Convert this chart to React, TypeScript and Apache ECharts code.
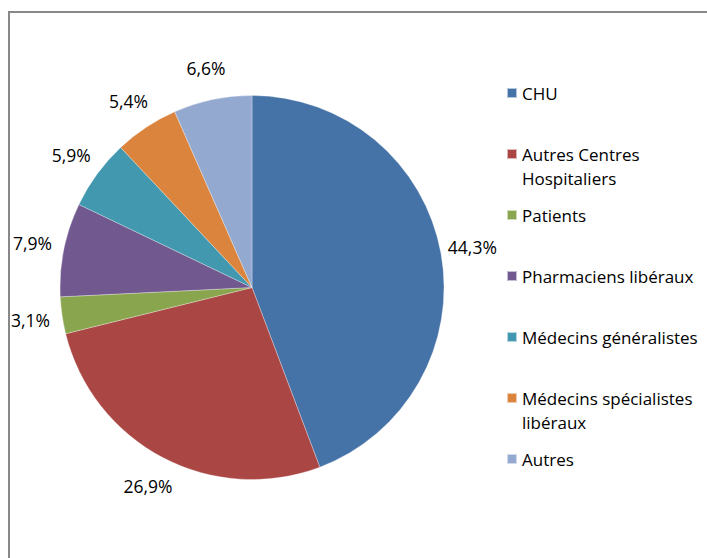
import React, { useEffect, useRef } from "react";
import * as echarts from "echarts";

const categories = [
  "CHU",
  "Autres Centres Hospitaliers",
  "Patients",
  "Pharmaciens libéraux",
  "Médecins généralistes",
  "Médecins spécialistes libéraux",
  "Autres",
];
const legendTexts = [
  "CHU",
  "Autres Centres\nHospitaliers",
  "Patients",
  "Pharmaciens libéraux",
  "Médecins généralistes",
  "Médecins spécialistes\nlibéraux",
  "Autres",
];
const values = [44.3, 26.9, 3.1, 7.9, 5.9, 5.4, 6.6];
const colors = ["#4572A7", "#AA4643", "#89A54E", "#71588F", "#4198AF", "#DB843D", "#93A9CF"];

const FONT = "'Open Sans', sans-serif";

export default function App() {
  const ref = useRef<HTMLDivElement>(null);
  useEffect(() => {
    if (!ref.current) return;
    const chart = echarts.init(ref.current, null, { renderer: "svg" });
    const data = categories.map((c, i) => ({ name: c, value: values[i] }));
    const isTwoLine = (i: number) => legendTexts[i].includes("\n");
    const option = {
      animation: false,
      color: colors,
      graphic: [
        {
          type: "rect",
          shape: { x: 9, y: 12, width: 760, height: 620 },
          style: { fill: "none", stroke: "#888888", lineWidth: 2 },
          silent: true,
        },
      ],
      legend: {
        orient: "vertical",
        left: 506,
        top: 57,
        padding: 0,
        itemWidth: 10,
        itemHeight: 10,
        itemGap: -11,
        icon: "rect",
        selectedMode: false,
        textStyle: { fontFamily: FONT, fontSize: 17, color: "#000", lineHeight: 24 },
        formatter: (name: string) => {
          const i = categories.indexOf(name);
          return isTwoLine(i) ? " \n" + legendTexts[i] : legendTexts[i];
        },
        data: categories.map((c, i) => ({
          name: c,
          textStyle: {
            padding: isTwoLine(i) ? [0, 0, 0, 0] : [24, 0, 24, 0],
          },
        })),
      },
      series: [
        {
          type: "pie",
          center: [252, 287.5],
          radius: 192,
          startAngle: 90,
          clockwise: true,
          silent: true,
          label: { show: false },
          labelLine: { show: false },
          itemStyle: { borderColor: "rgba(255,255,255,0.6)", borderWidth: 0.5 },
          emphasis: { disabled: true },
          data,
        },
        {
          type: "pie",
          center: [252, 287.5],
          radius: [192, 250],
          startAngle: 90,
          clockwise: true,
          silent: true,
          itemStyle: { color: "transparent" },
          emphasis: { disabled: true },
          label: {
            show: true,
            position: "inside",
            fontFamily: FONT,
            fontSize: 17.5,
            color: "#000",
            formatter: (p: any) => `${Number(p.value).toFixed(1).replace(".", ",")}%`,
          },
          labelLine: { show: false },
          data,
        },
      ],
    };
    chart.setOption(option as any);
    return () => chart.dispose();
  }, []);
  return (
    <div
      ref={ref}
      style={{ position: "absolute", left: 0, top: 0, width: 707, height: 558, background: "#fff" }}
    />
  );
}
